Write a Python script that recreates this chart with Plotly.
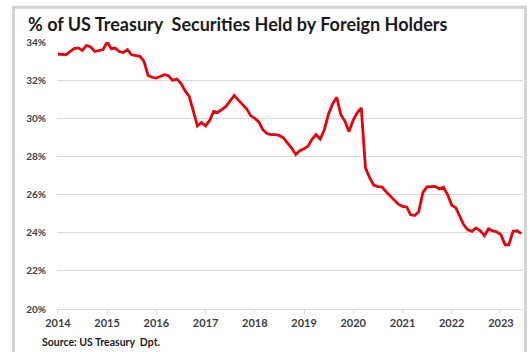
import plotly.graph_objects as go
import pandas as pd

# Monthly % of US Treasury securities held by foreign holders, Jan 2014 - Jun 2023
y2014 = [33.37, 33.35, 33.33, 33.50, 33.65, 33.69, 33.56, 33.82, 33.74, 33.50, 33.55, 33.60]
y2015 = [34.00, 33.65, 33.68, 33.50, 33.45, 33.60, 33.33, 33.30, 33.25, 33.00, 32.25, 32.15]
y2016 = [32.11, 32.20, 32.29, 32.23, 31.99, 32.06, 31.85, 31.45, 31.15, 30.40, 29.60, 29.78]
y2017 = [29.60, 29.90, 30.36, 30.31, 30.45, 30.62, 30.90, 31.20, 30.95, 30.75, 30.50, 30.14]
y2018 = [30.00, 29.80, 29.40, 29.20, 29.14, 29.14, 29.10, 28.97, 28.70, 28.44, 28.10, 28.30]
y2019 = [28.40, 28.55, 28.90, 29.14, 28.91, 29.40, 30.20, 30.75, 31.10, 30.20, 29.84, 29.30]
y2020 = [29.90, 30.30, 30.55, 27.40, 26.90, 26.50, 26.42, 26.40, 26.15, 25.95, 25.75, 25.50]
y2021 = [25.38, 25.35, 24.95, 24.90, 25.10, 26.10, 26.40, 26.43, 26.43, 26.30, 26.38, 26.00]
y2022 = [25.45, 25.30, 24.85, 24.40, 24.15, 24.07, 24.25, 24.10, 23.85, 24.20, 24.10, 24.05]
y2023 = [23.90, 23.37, 23.37, 24.07, 24.10, 23.95]

values = y2014 + y2015 + y2016 + y2017 + y2018 + y2019 + y2020 + y2021 + y2022 + y2023
dates = pd.date_range("2014-01-01", periods=len(values), freq="MS")

year_ticks = [f"{y}-01-01" for y in range(2014, 2024)]
year_labels = [str(y) for y in range(2014, 2024)]
pct_ticks = [20, 22, 24, 26, 28, 30, 32, 34]
pct_labels = [f"{v}%" for v in pct_ticks]

title_text = "% of US Treasury\u00a0 Securities Held by Foreign Holders"
source_text = "Source: US Treasury\u00a0 Dpt."

fig = go.Figure()
fig.add_trace(go.Scatter(
    x=dates, y=values, mode="lines",
    line=dict(color="#e8000b", width=2.8, shape="linear"),
    hoverinfo="x+y", showlegend=False,
))

fig.update_layout(
    width=531, height=352,
    margin=dict(l=57, r=8, t=42, b=43),
    paper_bgcolor="white", plot_bgcolor="white",
    font=dict(family="Lato, Liberation Sans, sans-serif", color="#404040"),
    title=dict(
        text=f"<b>{title_text}</b>",
        x=28 / 531, xanchor="left", y=1 - 25 / 352, yanchor="middle",
        font=dict(size=18, color="#1a1a1a", family="Lato, sans-serif"),
    ),
    xaxis=dict(
        type="date",
        range=["2013-12-25", "2023-06-14"],
        tickvals=year_ticks, ticktext=year_labels,
        showgrid=False, zeroline=False,
        showline=True, linecolor="#d9d9d9", linewidth=1,
        ticks="outside", ticklen=4, tickcolor="#d9d9d9", tickwidth=1,
        tickfont=dict(size=11, color="#404040", family="Lato, sans-serif", weight="bold"),
    ),
    yaxis=dict(
        range=[20, 34],
        tickvals=pct_ticks, ticktext=pct_labels,
        showgrid=True, gridcolor="#d9d9d9", gridwidth=1,
        zeroline=False, showline=False,
        ticks="outside", ticklen=8, tickcolor="rgba(0,0,0,0)",
        tickfont=dict(size=10, color="#404040", family="Lato, sans-serif", weight="bold"),
    ),
)

fig.add_annotation(
    text=f"<b>{source_text}</b>", xref="paper", yref="paper",
    x=(40 - 57) / 466, y=(309.3 - 342) / 267, xanchor="left", yanchor="middle",
    showarrow=False, font=dict(size=10.5, color="#1a1a1a", family="Lato, sans-serif"),
)

# outer frame
fig.add_shape(
    type="rect", xref="paper", yref="paper",
    x0=(13.5 - 57) / 466, x1=(525.5 - 57) / 466,
    y0=(309.3 - 370) / 267, y1=(309.3 - 7.5) / 267,
    line=dict(color="#d4d4d4", width=3), fillcolor="rgba(0,0,0,0)", layer="below",
)

fig.write_html("out.html")
